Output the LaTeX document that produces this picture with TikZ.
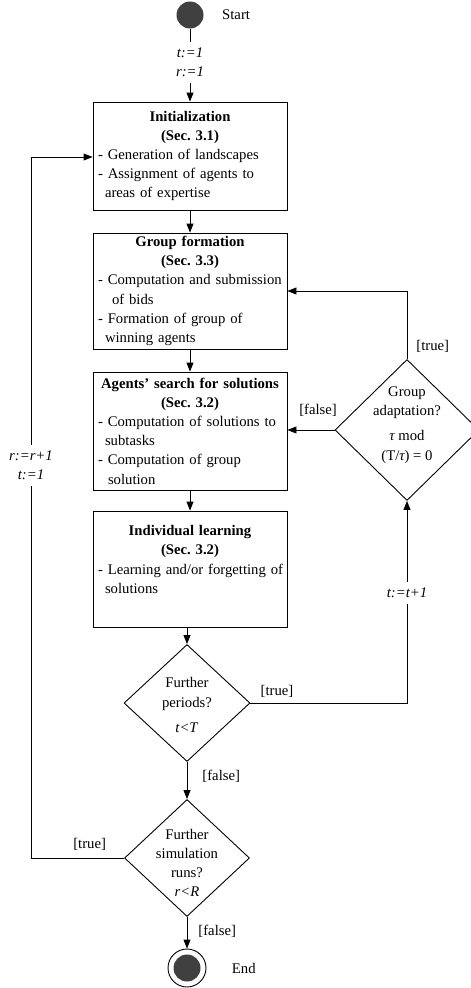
\documentclass[tikz,border=0pt]{standalone}
\usepackage{fontspec}
\setmainfont{Liberation Serif}
\usetikzlibrary{shapes.geometric,arrows.meta}
\frenchspacing
\definecolor{dotgray}{HTML}{404040}
\tikzstyle{line} = [draw, line width=0.9pt, -{Triangle[length=9pt,width=7pt]}]
\tikzstyle{block} = [draw, line width=0.9pt, rectangle, text width=184pt, inner xsep=5pt, inner ysep=0pt, align=left]
\tikzstyle{decision} = [draw, line width=0.9pt, diamond, inner sep=0pt]
\tikzstyle{dot} = [circle, fill=dotgray, inner sep=0pt, minimum size=27pt]
\tikzstyle{guard} = [inner sep=1pt]
\tikzstyle{assign} = [fill=white, align=center, font=\fontsize{14.7}{19.2}\selectfont\itshape, inner xsep=2pt, inner ysep=6pt]
\newcommand{\boxtitle}[1]{\makebox[\hsize]{\textbf{#1}}}
\newcommand{\boxline}[2][0pt]{\makebox[\hsize][l]{\hspace*{#1}#2}}

\begin{document}
\begin{tikzpicture}[x=1pt, y=-1pt, font=\fontsize{14.7}{19.2}\selectfont]
    \useasboundingbox (0,0) rectangle (471,988);
    % main column
    \node[dot, label={[label distance=15pt]right:Start}] (start) at (190,15) {};
    \node[block, minimum height=108pt] (init) at (190,156) {\boxtitle{Initialization}\\ \boxtitle{(Sec. 3.1)}\\ \boxline{- Generation of landscapes}\\ \boxline{- Assignment of agents to}\\ \boxline[7pt]{areas of expertise}};
    \node[block, minimum height=116pt] (group) at (190,291) {\boxtitle{Group formation}\\ \boxtitle{(Sec. 3.3)}\\ \boxline{- Computation and submission}\\ \boxline[14pt]{of bids}\\ \boxline{- Formation of group of}\\ \boxline[7pt]{winning agents}};
    \node[block, minimum height=118pt] (search) at (190,431) {\boxtitle{Agents' search for solutions}\\ \boxtitle{(Sec. 3.2)}\\ \boxline{- Computation of solutions to}\\ \boxline[7pt]{subtasks}\\ \boxline{- Computation of group}\\ \boxline[10pt]{solution}};
    \node[block, minimum height=116pt] (learn) at (190,569) {\boxtitle{Individual learning}\\ \boxtitle{(Sec. 3.2)}\\ \boxline{- Learning and/or forgetting of}\\ \boxline[7pt]{solutions}\\ \mbox{}};
    \node[decision, minimum width=126pt, minimum height=117pt, label={[align=center, yshift=-2pt]center:Further\\periods?\\[6pt]\textit{t<T}}] (periods) at (187,703) {};
    \node[decision, minimum width=125pt, minimum height=117pt, label={[align=center, yshift=-5pt]center:Further\\simulation\\runs?\\\textit{r<R}}] (runs) at (187,858) {};
    \node[draw, circle, line width=0.9pt, inner sep=0pt, minimum size=38pt, label={[label distance=22pt]right:End}] (end) at (187,968) {};
    \node[dot] (enddot) at (end) {};
    % side branch
    \node[decision, minimum width=144pt, minimum height=141pt, label={[align=center, yshift=5pt]center:Group\\adaptation?\\[6pt]{\itshape τ} mod\\(T/{\itshape τ}) = 0}] (adapt) at (407,430) {};
    \coordinate (back) at (31,858);

    \path[line] (start) -- node[assign, pos=0.46]{t:=1\\r:=1} (init);
    \path[line] (init) -- (group);
    \path[line] (group) -- (search);
    \path[line] (search) -- (learn);
    \path[line] (learn.south -| periods) -- (periods.north);
    \path[line] (periods) -- node[guard, right=14pt, pos=0.4]{[false]} (runs);
    \path[line] (runs) -- node[guard, right=10pt, pos=0.45]{[false]} (end);
    \path[line] (periods.east) -- node[guard, above=4pt, pos=0.17]{[true]} (periods.east -| adapt.south) -- node[assign, pos=0.545]{t:=t+1} (adapt.south);
    \path[line] (adapt.north) -- node[guard, right=8pt, pos=0.19]{[true]} (adapt.north |- group.east) -- (group.east);
    \path[line] (adapt.west) -- node[guard, above=12pt, pos=0.35]{[false]} (adapt.west -| search.east);
    \path[line] (runs.west) -- node[guard, above=6pt, pos=0.37]{[true]} (back) -- node[assign, pos=0.56]{r:=r+1\\t:=1} (back |- 0,157) -- (init.west |- 0,157);
\end{tikzpicture}
\end{document}
